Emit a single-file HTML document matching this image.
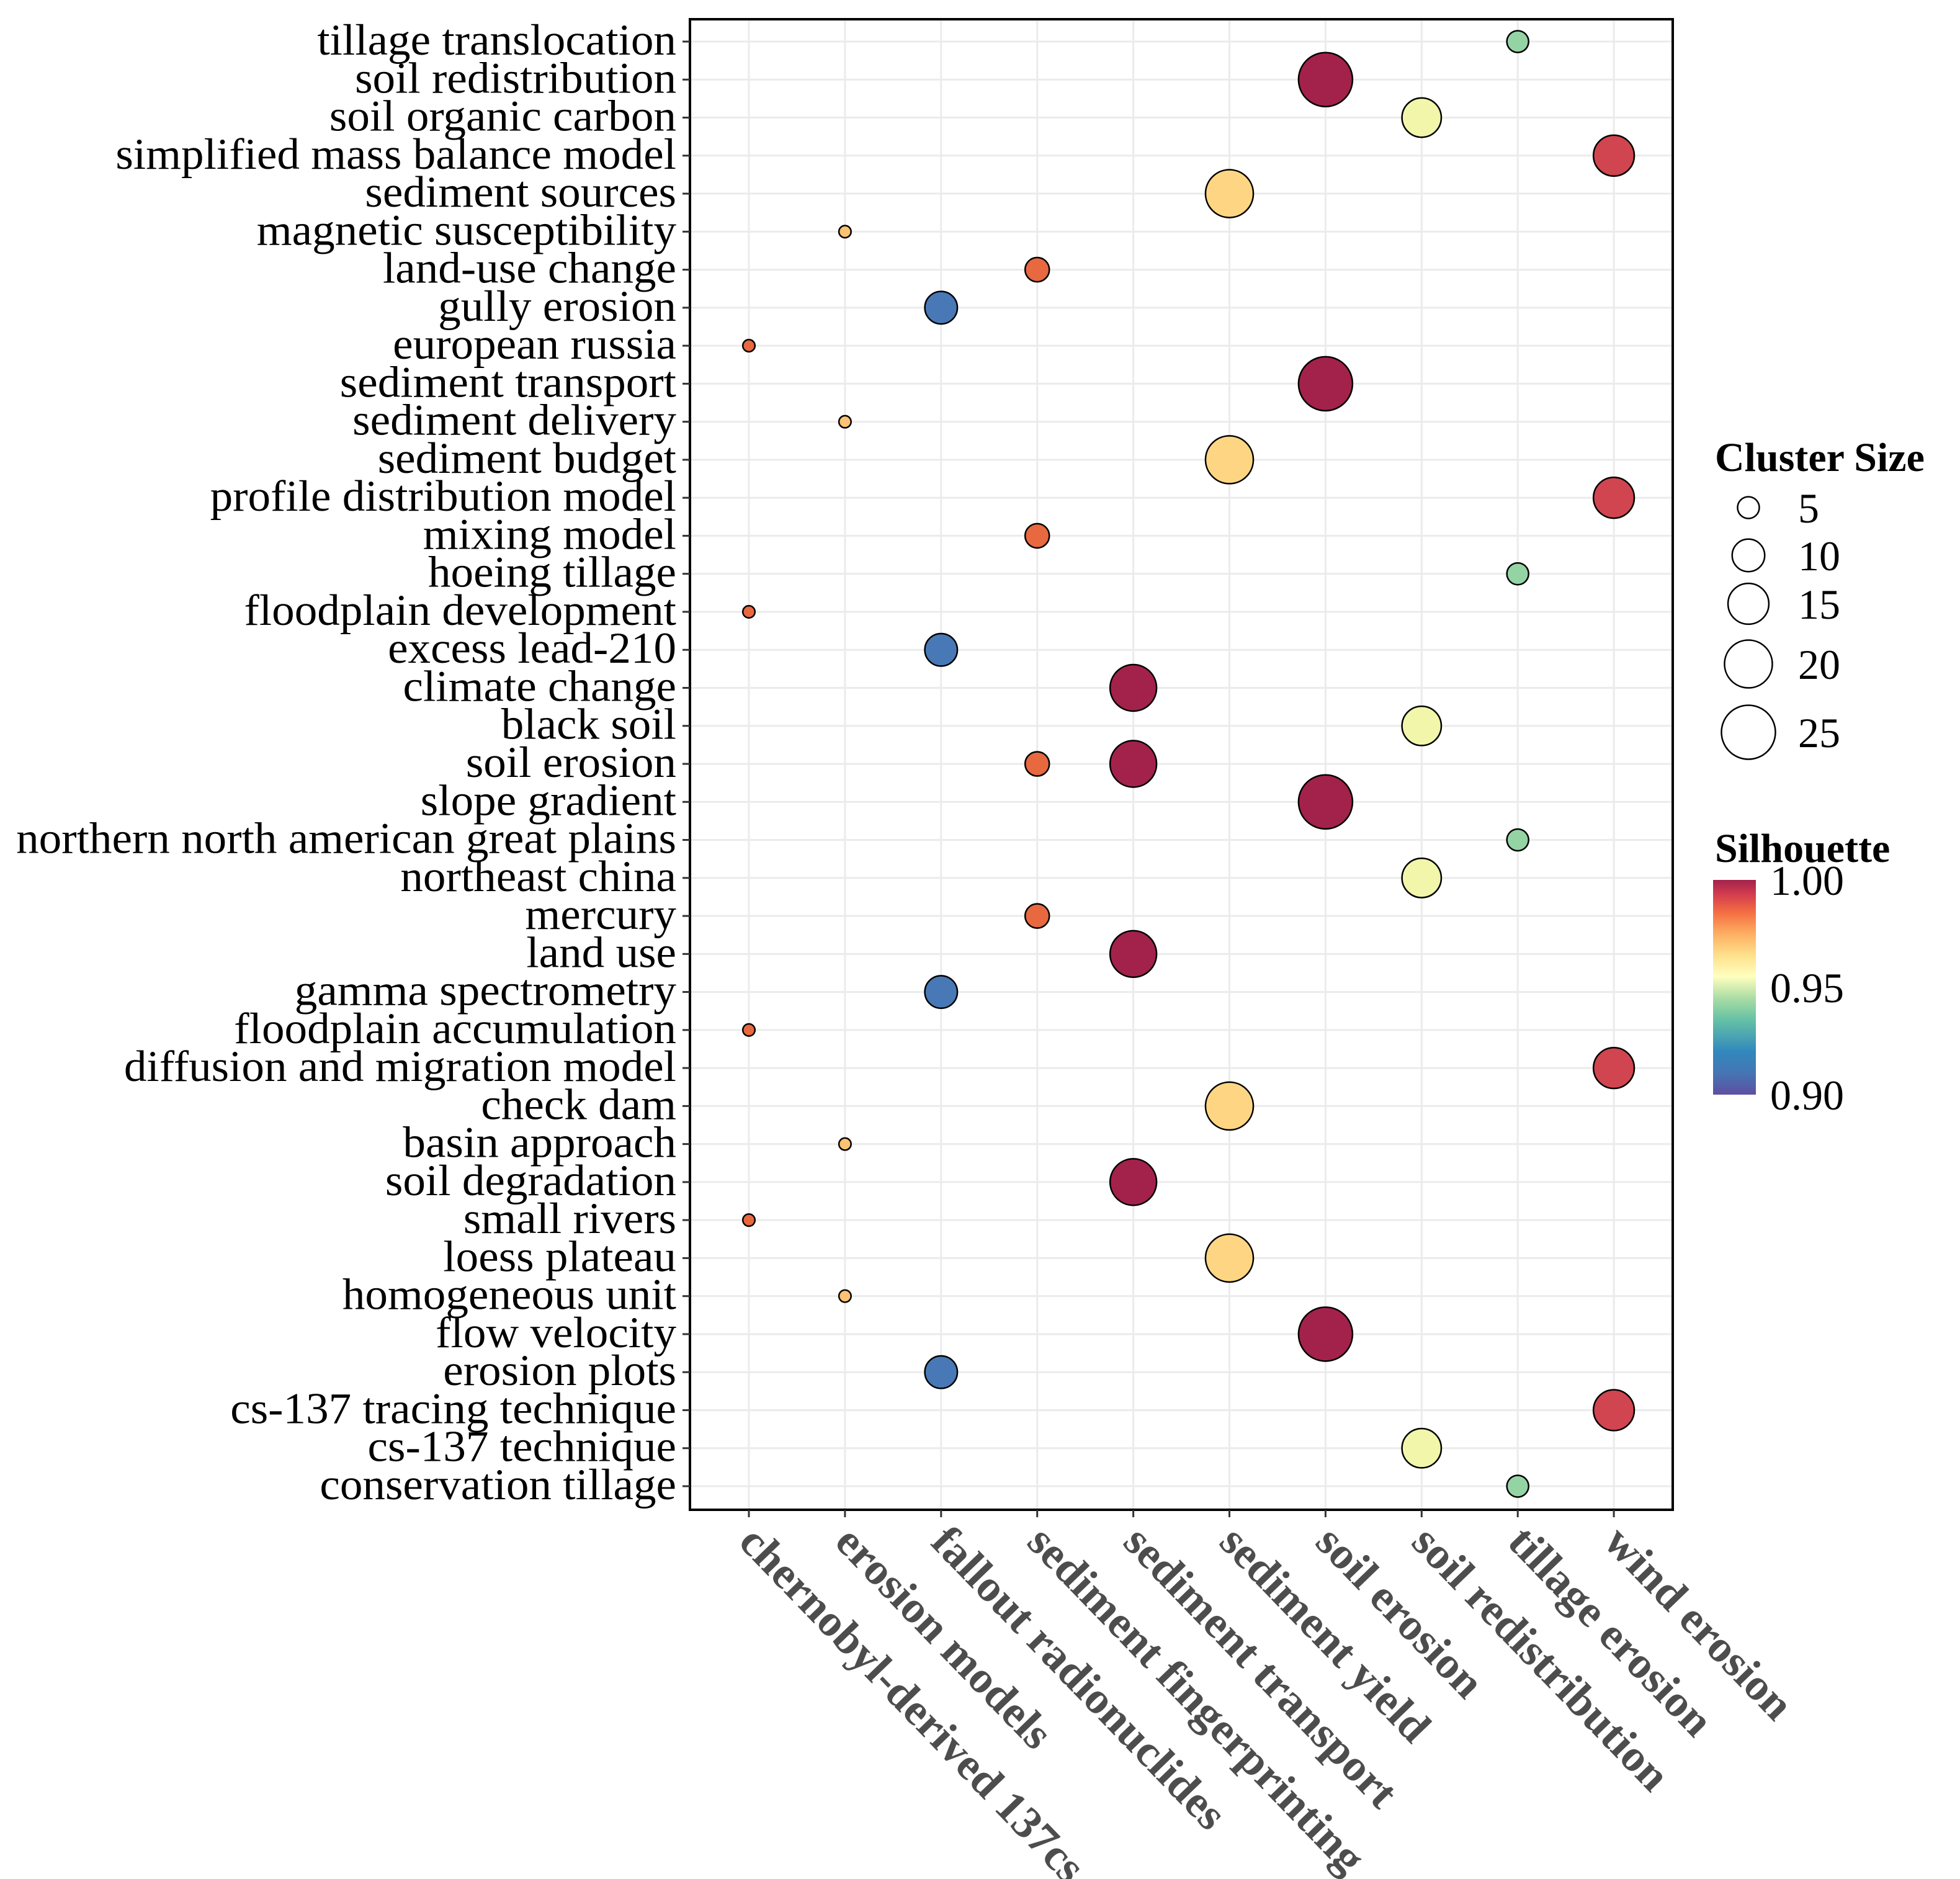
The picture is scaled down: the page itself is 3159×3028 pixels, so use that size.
<!DOCTYPE html>
<html><head><meta charset="utf-8">
<style>
html,body{margin:0;padding:0;background:#fff;}
svg{display:block;}
text{font-family:"Liberation Serif",serif;}
</style></head>
<body>
<svg id="chart" width="3159" height="3028" viewBox="0 0 3159 3028" xmlns="http://www.w3.org/2000/svg">
<rect x="0" y="0" width="3159" height="3028" fill="#fff"/>
<g id="grid"></g>
<g id="points"></g>
<rect x="1112" y="31" width="1584" height="2402" fill="none" stroke="#000" stroke-width="4"/>
<g id="yaxis"></g>
<g id="xaxis"></g>
<g id="legend">
  <defs>
    <linearGradient id="spec" x1="0" y1="1" x2="0" y2="0">
      <stop offset="0" stop-color="#5e4fa2"/><stop offset="0.1" stop-color="#4575b4"/>
      <stop offset="0.2" stop-color="#3288bd"/><stop offset="0.35" stop-color="#66c2a5"/>
      <stop offset="0.45" stop-color="#abdda4"/><stop offset="0.55" stop-color="#ffffbf"/>
      <stop offset="0.65" stop-color="#fee08b"/><stop offset="0.75" stop-color="#fdae61"/>
      <stop offset="0.85" stop-color="#f46d43"/><stop offset="0.93" stop-color="#d53e4f"/>
      <stop offset="1" stop-color="#a2224b"/>
    </linearGradient>
  </defs>
  <text x="2764" y="759" font-size="66" font-weight="bold">Cluster Size</text>
  <g id="sizeLegend"></g>
  <text x="2764" y="1389" font-size="66" font-weight="bold">Silhouette</text>
  <rect x="2761" y="1418" width="69" height="346" fill="url(#spec)"/>
  <g id="colorTicks"></g>
</g>
</svg>
<script>
const clusters = ["chernobyl-derived 137cs","erosion models","fallout radionuclides","sediment fingerprinting","sediment transport","sediment yield","soil erosion","soil redistribution","tillage erosion","wind erosion"];
const clusterSize = [2, 2, 10, 6, 19, 20, 25, 14, 5, 15];
const clusterSil = [0.982, 0.968, 0.908, 0.982, 1.0, 0.964, 1.0, 0.952, 0.935, 0.99];
const keywords = ["tillage translocation","soil redistribution","soil organic carbon","simplified mass balance model","sediment sources","magnetic susceptibility","land-use change","gully erosion","european russia","sediment transport","sediment delivery","sediment budget","profile distribution model","mixing model","hoeing tillage","floodplain development","excess lead-210","climate change","black soil","soil erosion","slope gradient","northern north american great plains","northeast china","mercury","land use","gamma spectrometry","floodplain accumulation","diffusion and migration model","check dam","basin approach","soil degradation","small rivers","loess plateau","homogeneous unit","flow velocity","erosion plots","cs-137 tracing technique","cs-137 technique","conservation tillage"];
const pointKeyword = ["tillage translocation","soil redistribution","soil organic carbon","simplified mass balance model","sediment sources","magnetic susceptibility","land-use change","gully erosion","european russia","sediment transport","sediment delivery","sediment budget","profile distribution model","mixing model","hoeing tillage","floodplain development","excess lead-210","climate change","black soil","soil erosion","soil erosion","slope gradient","northern north american great plains","northeast china","mercury","land use","gamma spectrometry","floodplain accumulation","diffusion and migration model","check dam","basin approach","soil degradation","small rivers","loess plateau","homogeneous unit","flow velocity","erosion plots","cs-137 tracing technique","cs-137 technique","conservation tillage"];
const pointCluster = ["tillage erosion","soil erosion","soil redistribution","wind erosion","sediment yield","erosion models","sediment fingerprinting","fallout radionuclides","chernobyl-derived 137cs","soil erosion","erosion models","sediment yield","wind erosion","sediment fingerprinting","tillage erosion","chernobyl-derived 137cs","fallout radionuclides","sediment transport","soil redistribution","sediment fingerprinting","sediment transport","soil erosion","tillage erosion","soil redistribution","sediment fingerprinting","sediment transport","fallout radionuclides","chernobyl-derived 137cs","wind erosion","sediment yield","erosion models","sediment transport","chernobyl-derived 137cs","sediment yield","erosion models","soil erosion","fallout radionuclides","wind erosion","soil redistribution","tillage erosion"];
const sizeBreaks = [5,10,15,20,25];
const silTicks = [1.00, 0.95, 0.90];

const NS="http://www.w3.org/2000/svg";
function mk(tag, attrs, parent){const e=document.createElementNS(NS,tag);for(const k in attrs)e.setAttribute(k,attrs[k]);parent.appendChild(e);return e;}
const X0=1207, DX=154.9, Y0=67, Y1=2395;
const xScale = c => X0 + clusters.indexOf(c)*DX;
const yScale = k => Y0 + keywords.indexOf(k)*(Y1-Y0)/(keywords.length-1);
const rScale = s => 9.4*Math.sqrt(s) - 3.5;
const spec = ["#5e4fa2","#4575b4","#4a7bb7","#66c2a5","#abdda4","#e6f598","#f4f6b0","#fee08b","#fdae61","#e8683f","#d0454f","#a2224b"];
const specPos = [0.90,0.905,0.91,0.925,0.94,0.948,0.953,0.962,0.972,0.982,0.99,1.0];
function hex(h){return [1,3,5].map(i=>parseInt(h.substr(i,2),16));}
function cScale(v){
  if(v<=specPos[0])return spec[0];
  for(let i=1;i<specPos.length;i++){ if(v<=specPos[i]){const t=(v-specPos[i-1])/(specPos[i]-specPos[i-1]);const a=hex(spec[i-1]),b=hex(spec[i]);return "rgb("+a.map((x,j)=>Math.round(x+(b[j]-x)*t)).join(",")+")";} }
  return spec[spec.length-1];
}
const grid=document.getElementById('grid');
mk('rect',{x:1112,y:31,width:1584,height:2402,fill:'#fff'},grid);
keywords.forEach(k=>{
  const l=mk('line',{x1:1112,x2:2696,y1:yScale(k),y2:yScale(k),stroke:'#ebebeb','stroke-width':3},grid);
  
  
});
clusters.forEach(c=>{
  const l=mk('line',{x1:xScale(c),x2:xScale(c),y1:31,y2:2433,stroke:'#ebebeb','stroke-width':3},grid);
  
  
});
const pts=document.getElementById('points');
pointKeyword.forEach((k,i)=>{
  const ci=clusters.indexOf(pointCluster[i]);
  const c=mk('circle',{cx:xScale(pointCluster[i]),cy:yScale(k),r:rScale(clusterSize[ci]),fill:cScale(clusterSil[ci]),stroke:'#000','stroke-width':2.5},pts);
  
  
});
const ya=document.getElementById('yaxis');
keywords.forEach(k=>{
  const y=yScale(k);
  const t=mk('line',{x1:1100,x2:1112,y1:y,y2:y,stroke:'#333','stroke-width':3},ya);
  
  
  const tx=mk('text',{transform:`translate(1090,${y+21}) scale(1.03,1)`,'font-size':71,'text-anchor':'end',fill:'#000'},ya);
  tx.textContent=k;
  
  
});
const xa=document.getElementById('xaxis');
clusters.forEach(c=>{
  const x=xScale(c);
  const t=mk('line',{x1:x,x2:x,y1:2433,y2:2445,stroke:'#333','stroke-width':3},xa);
  
  
  const tx=mk('text',{transform:`translate(${x+18},2452) rotate(46) scale(1.02,1)`,'font-size':72,'font-weight':'bold','dominant-baseline':'hanging',fill:'#4d4d4d'},xa);
  tx.textContent=c;
  
  
});
const sl=document.getElementById('sizeLegend');
const sizeY=[818,895,973,1070,1180];
sizeBreaks.forEach((s,i)=>{
  const c=mk('circle',{cx:2818,cy:sizeY[i],r:rScale(s),fill:'none',stroke:'#000','stroke-width':2.5},sl);
  
  
  const t=mk('text',{x:2898,y:sizeY[i]+24,'font-size':68,fill:'#000'},sl);
  t.textContent=String(s);
  
  
});
const ct=document.getElementById('colorTicks');
silTicks.forEach(v=>{
  const y=1418+(1.0-v)/0.1*346;
  const t=mk('text',{x:2853,y:y+24,'font-size':68,fill:'#000'},ct);
  t.textContent=v.toFixed(2);
  
  
});
</script>
</body></html>
